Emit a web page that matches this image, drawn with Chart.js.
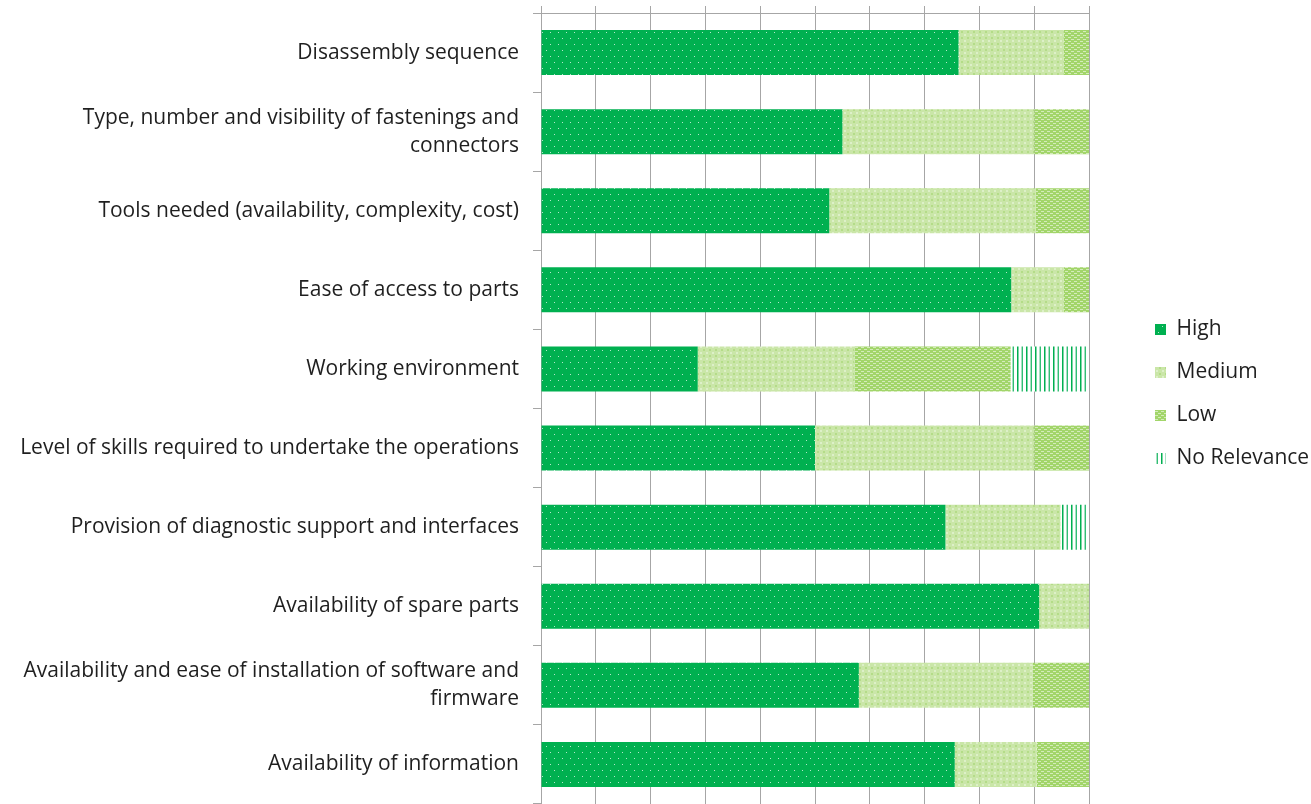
<!DOCTYPE html>
<html>
<head>
<meta charset="utf-8">
<script src="https://cdn.jsdelivr.net/npm/chart.js@4"></script>
<style>
html,body{margin:0;padding:0;background:#fff;overflow:hidden;}
#c{display:block;}
</style>
</head>
<body>
<canvas id="c" width="1311" height="804"></canvas>
<script>
const categories = [
  "Disassembly sequence",
  ["Type, number and visibility of fastenings and", "connectors"],
  "Tools needed (availability, complexity, cost)",
  "Ease of access to parts",
  "Working environment",
  "Level of skills required to undertake the operations",
  "Provision of diagnostic support and interfaces",
  "Availability of spare parts",
  ["Availability and ease of installation of software and", "firmware"],
  "Availability of information"
];
const seriesNames = ["High", "Medium", "Low", "No Relevance"];
const high   = [76.2, 55.0, 52.6, 85.8, 28.6, 50.0, 73.8, 90.9, 58.0, 75.5];
const medium = [19.2, 35.0, 37.7,  9.6, 28.6, 40.0, 21.0,  9.1, 31.7, 15.0];
const low    = [ 4.6, 10.0,  9.7,  4.6, 28.5, 10.0,  0.0,  0.0, 10.3,  9.5];
const noRel  = [ 0.0,  0.0,  0.0,  0.0, 14.3,  0.0,  5.2,  0.0,  0.0,  0.0];

function tile(w, h, draw) {
  const cv = document.createElement('canvas');
  cv.width = w; cv.height = h;
  const g = cv.getContext('2d');
  draw(g);
  return document.getElementById('c').getContext('2d').createPattern(cv, 'repeat');
}
const patHigh = tile(8, 12, g => {
  g.fillStyle = '#00B050'; g.fillRect(0, 0, 8, 12);
  g.fillStyle = 'rgba(255,255,255,0.7)';
  g.fillRect(2, 2, 1, 1); g.fillRect(6, 8, 1, 1);
});
const patMedium = tile(6, 6, g => {
  g.fillStyle = '#CAE6A8'; g.fillRect(0, 0, 6, 6);
  g.fillStyle = '#B4DC88'; g.fillRect(1, 1, 2, 2);
  g.fillStyle = '#DDF0C8'; g.fillRect(4, 4, 2, 2);
});
const patLow = tile(6, 4, g => {
  g.fillStyle = '#A2D56A'; g.fillRect(0, 0, 6, 4);
  g.fillStyle = '#D4ECBA'; g.fillRect(0, 1, 3, 1); g.fillRect(3, 3, 3, 1);
});
const patNoRel = tile(9, 4, g => {
  g.fillStyle = '#ffffff'; g.fillRect(0, 0, 9, 4);
  g.fillStyle = '#00B050'; g.fillRect(0, 0, 1, 4);
  g.fillStyle = '#7FD3A6'; g.fillRect(1, 0, 1, 4);
  g.fillStyle = '#33BE74'; g.fillRect(5, 0, 1, 4);
  g.fillStyle = '#A6E1C2'; g.fillRect(4, 0, 1, 4);
});

const textColor = '#1f1f1f';
const gridColor = '#A6A6A6';
const fontFamily = "'Open Sans', sans-serif";

const legendShift = {
  id: 'legendShift',
  afterLayout(chart) {
    const lg = chart.legend;
    if (lg) { lg.top -= 11; lg.bottom -= 11; }
  }
};

new Chart(document.getElementById('c'), {
  type: 'bar',
  data: {
    labels: categories,
    datasets: [
      { label: seriesNames[0], data: high,   backgroundColor: patHigh },
      { label: seriesNames[1], data: medium, backgroundColor: patMedium },
      { label: seriesNames[2], data: low,    backgroundColor: patLow },
      { label: seriesNames[3], data: noRel,  backgroundColor: patNoRel }
    ]
  },
  plugins: [legendShift],
  options: {
    indexAxis: 'y',
    responsive: false,
    animation: false,
    devicePixelRatio: 1,
    datasets: { bar: { categoryPercentage: 1.0, barPercentage: 0.569, borderWidth: 0 } },
    layout: { padding: { top: 6, left: 0, right: 0, bottom: 0 } },
    scales: {
      x: {
        position: 'top',
        stacked: true,
        min: 0, max: 100,
        ticks: { display: false, stepSize: 10 },
        grid: { color: gridColor, lineWidth: 1, drawTicks: true, tickLength: 7 },
        border: { display: true, color: gridColor, width: 1 },
        afterFit: s => { s.paddingLeft = 0; s.paddingRight = 0; }
      },
      y: {
        stacked: true,
        ticks: { color: textColor, padding: 14, font: { family: fontFamily, size: 21, lineHeight: 1.33 } },
        grid: { offset: true, drawOnChartArea: false, drawTicks: true, tickLength: 8, color: gridColor, lineWidth: 1 },
        border: { display: true, color: gridColor, width: 1 },
        afterFit: s => { s.width = 541; s.paddingTop = 0; s.paddingBottom = 0; }
      },
      yR: {
        type: 'linear',
        position: 'right',
        display: true,
        ticks: { display: false },
        grid: { display: false },
        border: { display: false },
        afterFit: s => { s.width = 44; s.paddingTop = 0; s.paddingBottom = 0; }
      }
    },
    plugins: {
      tooltip: { enabled: false },
      legend: {
        position: 'right',
        maxWidth: 178,
        labels: {
          boxWidth: 11, boxHeight: 11, padding: 22,
          color: textColor,
          font: { family: fontFamily, size: 21 }
        }
      }
    }
  }
});
</script>
</body>
</html>
